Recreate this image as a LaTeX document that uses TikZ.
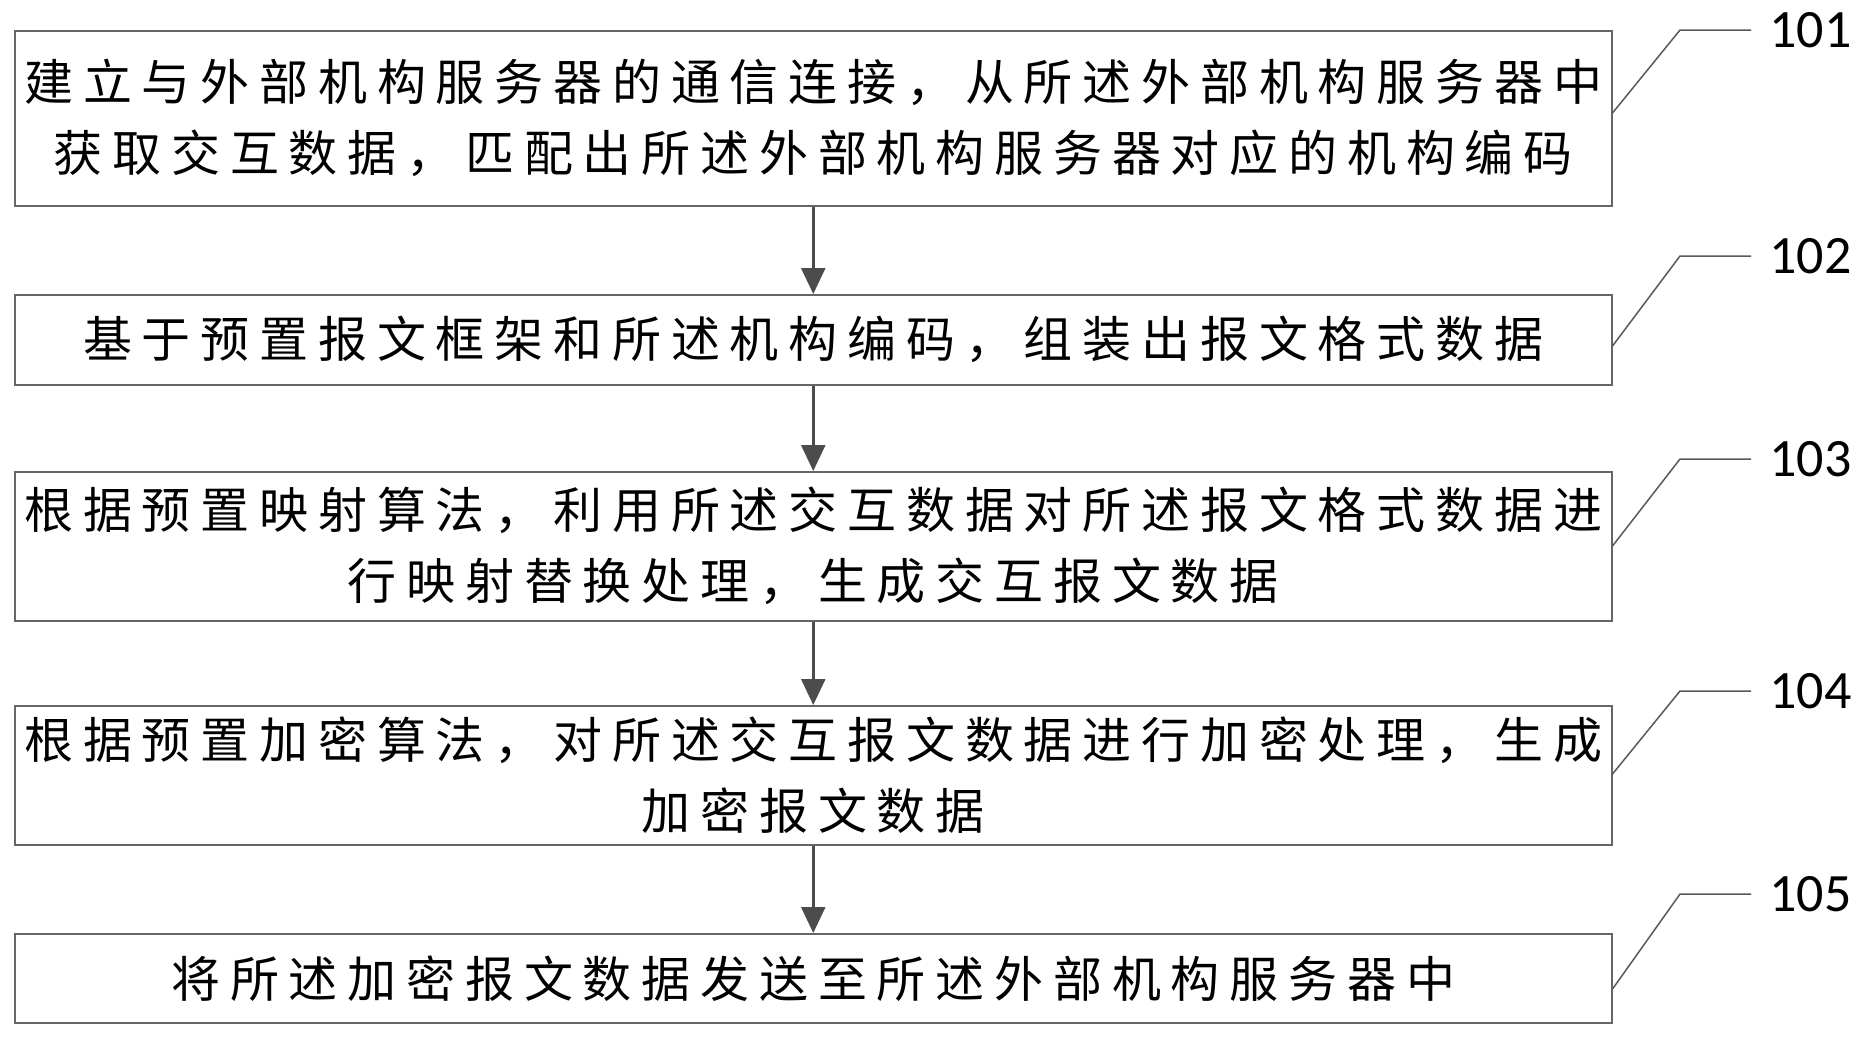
\documentclass[tikz,border=0pt]{standalone}
\usepackage{fontspec}
\newfontfamily\cjk[LetterSpace=20]{Noto Sans CJK SC}
\newfontfamily\numf{Carlito}
\usetikzlibrary{arrows.meta}
\begin{document}
\begin{tikzpicture}[x=1pt,y=-1pt,
  stepbox/.style={draw=black!60,line width=1.5pt,minimum width=1597pt,inner sep=0pt,align=center,
    font=\cjk\fontsize{49}{71}\selectfont,text=black,anchor=north west},
  flow/.style={draw=black!70,line width=2.5pt,-{Triangle[length=26pt,width=24pt]}},
  lead/.style={draw=black!65,line width=1.5pt},
  lab/.style={font=\numf\fontsize{54}{54}\selectfont,anchor=west}]
\useasboundingbox (0,0) rectangle (1867,1036);
\node[stepbox,minimum height=175pt] (b1) at (14,30) {建立与外部机构服务器的通信连接，从所述外部机构服务器中\\获取交互数据，匹配出所述外部机构服务器对应的机构编码};
\node[stepbox,minimum height=90pt] (b2) at (14,294) {基于预置报文框架和所述机构编码，组装出报文格式数据};
\node[stepbox,minimum height=149pt] (b3) at (14,471) {根据预置映射算法，利用所述交互数据对所述报文格式数据进\\行映射替换处理，生成交互报文数据};
\node[stepbox,minimum height=139pt] (b4) at (14,705) {根据预置加密算法，对所述交互报文数据进行加密处理，生成\\加密报文数据};
\node[stepbox,minimum height=89pt] (b5) at (14,933) {将所述加密报文数据发送至所述外部机构服务器中};
\draw[flow] (b1.south) -- (b2.north);
\draw[flow] (b2.south) -- (b3.north);
\draw[flow] (b3.south) -- (b4.north);
\draw[flow] (b4.south) -- (b5.north);
\foreach \b/\ya/\yb/\t in {b1/113/30/101,b2/346/256/102,b3/546/459/103,b4/774/691/104,b5/989/894/105}{
  \coordinate (k\t) at (1680,\yb);
  \coordinate (e\t) at (1751,\yb);
  \draw[lead] (\b.north east |- 0,\ya) -- (k\t) -- (e\t);
  \node[lab] (n\t) at (1766,\yb) {\t};
}
\end{tikzpicture}
\end{document}
